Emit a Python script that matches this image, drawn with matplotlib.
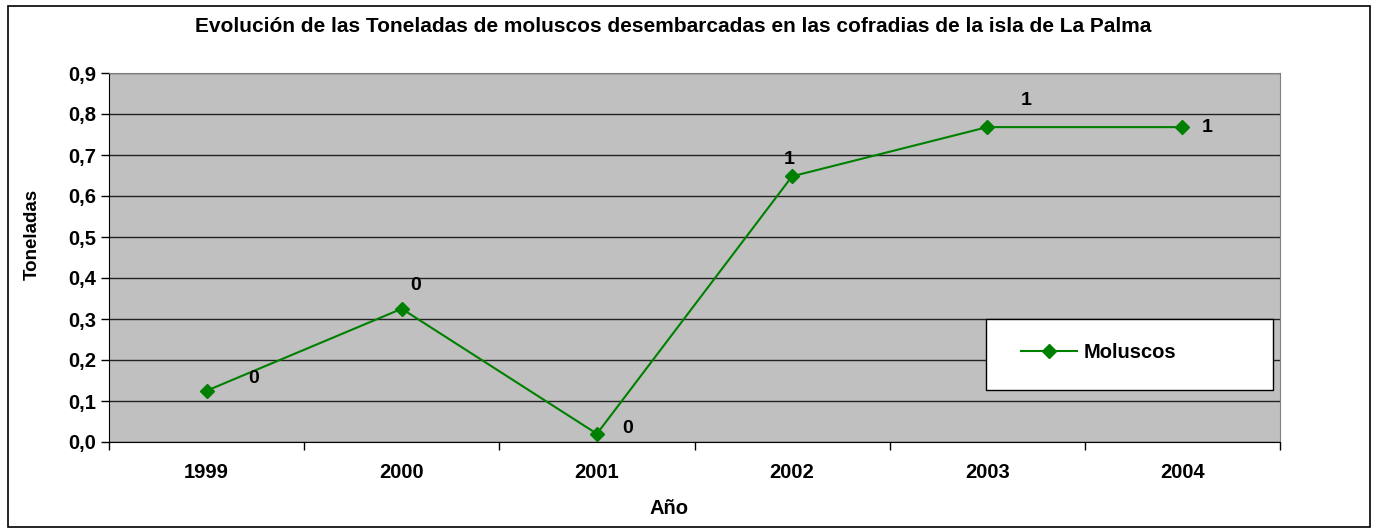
import matplotlib
matplotlib.use("Agg")
import matplotlib.pyplot as plt
from matplotlib.patches import Rectangle
from matplotlib.ticker import FixedLocator, FuncFormatter

years = ["1999", "2000", "2001", "2002", "2003", "2004"]
moluscos = [0.125, 0.325, 0.02, 0.648, 0.768, 0.768]
point_labels = ["0", "0", "0", "1", "1", "1"]
yticks = [0.0, 0.1, 0.2, 0.3, 0.4, 0.5, 0.6, 0.7, 0.8, 0.9]

plt.rcParams['font.family'] = ['Liberation Sans', 'DejaVu Sans']
plt.rcParams['font.weight'] = 'bold'

W, H = 1375, 529
fig = plt.figure(figsize=(W / 100, H / 100), dpi=100)
fig.patches.append(Rectangle((0.006, 0.004), 0.99, 0.985, transform=fig.transFigure,
                             fill=False, edgecolor='black', linewidth=1.2))

ax = fig.add_axes([109/W, 1-442/H, (1280-109)/W, (442-73)/H])
ax.set_facecolor('#C0C0C0')

x = list(range(len(years)))
ax.plot(x, moluscos, color='#008000', linewidth=1.5, marker='D', markersize=7,
        markerfacecolor='#008000', markeredgecolor='#008000', label='Moluscos')

offsets = [(34, 9), (10, 17), (22, 4), (-2, 12), (28, 19), (18, 0)]
for xi, yi, lab, off in zip(x, moluscos, point_labels, offsets):
    ax.annotate(lab, (xi, yi), xytext=off, textcoords='offset points',
                ha='center', va='center', fontsize=14, fontweight='bold')

ax.set_xlim(-0.5, 5.5)
ax.set_ylim(0, 0.9)
ax.set_yticks(yticks)
ax.yaxis.set_major_formatter(FuncFormatter(lambda v, p: f"{v:.1f}".replace('.', ',')))
ax.set_xticks(x)
ax.set_xticklabels(years)
ax.xaxis.set_minor_locator(FixedLocator([i - 0.5 for i in range(len(years) + 1)]))
ax.tick_params(axis='x', which='major', length=0, pad=15, labelsize=14.5)
ax.tick_params(axis='x', which='minor', length=6, width=1, color='black')
ax.tick_params(axis='y', length=6, width=1, labelsize=14.5, pad=3)
for lab in ax.get_xticklabels() + ax.get_yticklabels():
    lab.set_fontweight('bold')

ax.grid(axis='y', color='#222222', linewidth=1)
ax.set_axisbelow(True)
ax.spines['left'].set_color('black')
ax.spines['bottom'].set_color('black')
ax.spines['top'].set_color('#808080')
ax.spines['right'].set_color('#808080')

fig.text(673/W, 1-27/H, "Evolución de las Toneladas de moluscos desembarcadas en las cofradias de la isla de La Palma",
         ha='center', va='center', fontsize=15, fontweight='bold')
fig.text(32/W, 1-234/H, "Toneladas", rotation=90, ha='center', va='center',
         fontsize=13.5, fontweight='bold')
fig.text(669/W, 1-509/H, "Año", ha='center', va='center', fontsize=14.5, fontweight='bold')

# legend frame (white box) drawn separately to match the reference proportions
ax.add_patch(Rectangle((986/W, 1-390/H), (1273-986)/W, (390-319)/H,
                       transform=fig.transFigure, facecolor='white', edgecolor='black',
                       linewidth=1, zorder=4, clip_on=False))
leg = ax.legend(loc='center left', bbox_to_anchor=(1021/W, 1-353/H),
                bbox_transform=fig.transFigure,
                frameon=False, prop={'weight': 'bold', 'size': 14.5},
                borderpad=0, handlelength=2.8, handletextpad=0.3, borderaxespad=0)
leg.set_zorder(5)

fig.savefig("out.png", dpi=100)
